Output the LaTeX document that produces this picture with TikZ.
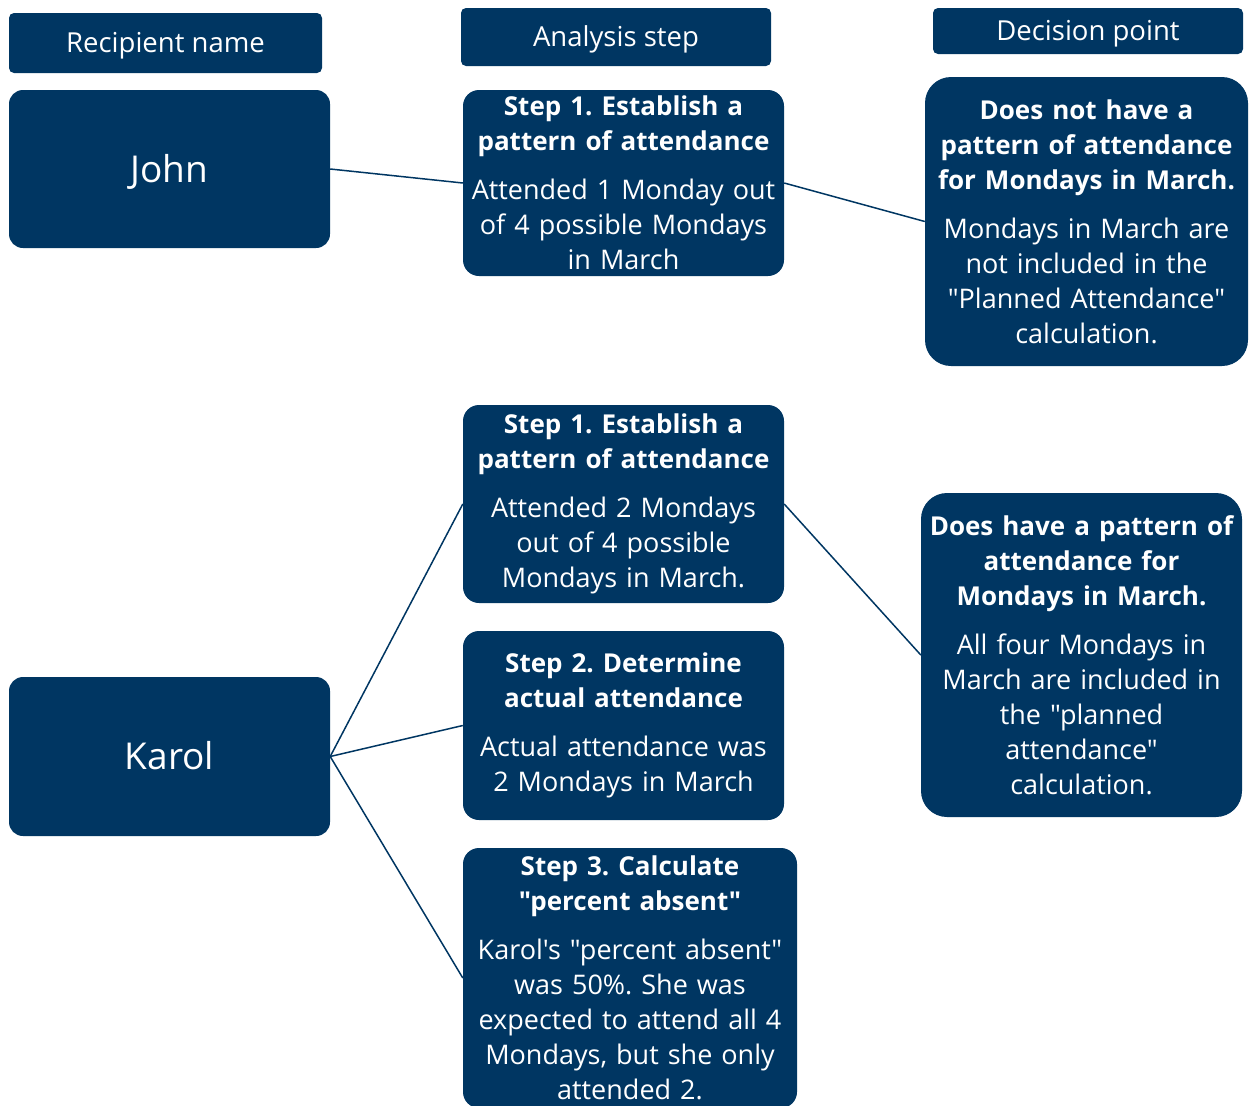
\documentclass[tikz,border=0pt]{standalone}
\usepackage{fontspec}
\setmainfont{Open Sans}[Ligatures=NoCommon, Mapping=]
\definecolor{navy}{RGB}{0,54,98}
\frenchspacing
\newcommand{\dq}{\symbol{34}}
\newcommand{\sq}{\symbol{39}}
\tikzset{
  box/.style={fill=navy, text=white, align=center, inner sep=0pt,
    font=\fontsize{27}{35}\selectfont},
  hdr/.style={box, rounded corners=5pt, font=\fontsize{27.5}{32}\selectfont,
    text height=20pt, text depth=1pt},
  stepbox/.style={box, rounded corners=16pt},
  decbox/.style={box, rounded corners=26pt},
  namebox/.style={box, rounded corners=14pt, font=\fontsize{37}{44}\selectfont,
    text height=26pt, text depth=0pt},
  link/.style={draw=navy, line width=1.5pt}
}
\newcommand{\hb}[2]{{\fontsize{26}{35}\selectfont\bfseries #1}\\[14pt]#2}
\begin{document}
\begin{tikzpicture}[x=1pt,y=-1pt]
\useasboundingbox (0,0) rectangle (1254,1106);
% headers
\node[hdr, minimum width=313pt, minimum height=60pt] (hrec) at (165.5,43) {Recipient name};
\node[hdr, minimum width=310pt, minimum height=58pt] (hana) at (616,37) {Analysis step};
\node[hdr, minimum width=310pt, minimum height=46pt] (hdec) at (1088,31) {Decision point};
% John row
\node[namebox, minimum width=321pt, minimum height=158pt] (john) at (169.5,169) {John};
\node[stepbox, minimum width=321pt, minimum height=186pt, text width=315pt] (s1j) at (623.5,183)
  {\hb{Step 1. Establish a\\pattern of attendance}{Attended 1 Monday out\\of 4 possible Mondays\\in March}};
\node[decbox, minimum width=323pt, minimum height=289pt, text width=317pt] (d1) at (1086.5,221.5)
  {\hb{Does not have a\\pattern of attendance\\for Mondays in March.}{Mondays in March are\\not included in the\\\dq Planned Attendance\dq\\calculation.}};
% Karol row
\node[namebox, minimum width=321pt, minimum height=159pt] (karol) at (169.5,756.5) {Karol};
\node[stepbox, minimum width=321pt, minimum height=198pt, text width=315pt] (s1k) at (623.5,504)
  {\hb{Step 1. Establish a\\pattern of attendance}{Attended 2 Mondays\\out of 4 possible\\Mondays in March.}};
\node[stepbox, minimum width=321pt, minimum height=189pt, text width=315pt] (s2k) at (623.5,725.5)
  {\hb{Step 2. Determine\\actual attendance}{Actual attendance was\\2 Mondays in March}};
\node[stepbox, minimum width=334pt, minimum height=260pt, text width=328pt] (s3k) at (630,978)
  {\hb{Step 3. Calculate\\\dq percent absent\dq}{Karol\sq s \dq percent absent\dq\\was 50\%. She was\\expected to attend all 4\\Mondays, but she only\\attended 2.}};
\node[decbox, minimum width=321pt, minimum height=324pt, text width=315pt] (d2) at (1081.5,655)
  {\hb{Does have a pattern of\\attendance for\\Mondays in March.}{All four Mondays in\\March are included in\\the \dq planned\\attendance\dq\\calculation.}};
% connectors
\draw[link] (john.east) -- (s1j.west);
\draw[link] (s1j.east) -- (d1.west);
\draw[link] (karol.east) -- (s1k.west);
\draw[link] (karol.east) -- (s2k.west);
\draw[link] (karol.east) -- (s3k.west);
\draw[link] (s1k.east) -- (d2.west);
\end{tikzpicture}
\end{document}
